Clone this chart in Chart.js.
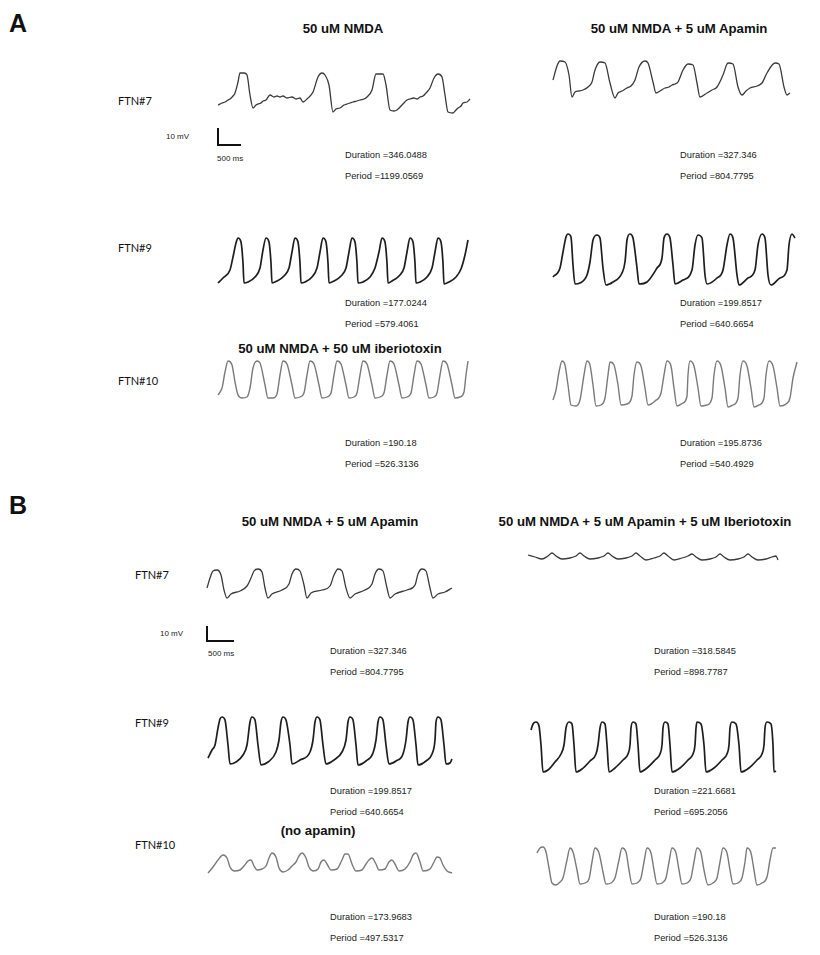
<!DOCTYPE html>
<html>
<head>
<meta charset="utf-8">
<script src="https://cdn.jsdelivr.net/npm/chart.js@4.4.1/dist/chart.umd.min.js"></script>
<style>
  body { margin: 0; background: #fff; }
  #fig { position: relative; width: 820px; height: 955px; background: #fff; overflow: hidden; font-family: "Liberation Sans", Arial, sans-serif; color: #111; }
  .trace { position: absolute; }
  .t { position: absolute; white-space: nowrap; }
  .panel { font-size: 25px; font-weight: bold; transform: translateY(-50%); }
  .title { font-size: 13.2px; font-weight: bold; transform: translate(-50%, -50%); }
  .cell { font-family: Lato, "Open Sans", sans-serif; font-size: 11px; transform: translateY(-50%); }
  .stat { font-size: 9.3px; transform: translateY(-50%); color: #222; }
  .small { font-size: 8px; transform: translateY(-50%); color: #222; }
  .bar { position: absolute; border-left: 2px solid #111; border-bottom: 2px solid #111; }
</style>
</head>
<body>
<div id="fig"></div>
<script>
// Traces: [time (ms), membrane potential (mV above trough)]
const traceA7Nmda = [[60,5.5],[140,6.5],[200,7],[260,8],[300,8.5],[360,10],[400,11.5],[460,17],[500,21.5],[580,21.5],[640,20.5],[700,10.5],[760,4],[820,5.5],[860,6],[920,6.5],[960,7.5],[1020,8],[1100,10.5],[1180,9.5],[1240,10],[1300,9.5],[1360,10],[1440,9],[1540,9.5],[1620,8.5],[1700,9],[1760,7],[1860,9],[1960,12],[2060,19.5],[2140,21.5],[2200,20.5],[2280,15.5],[2360,2],[2420,3.5],[2500,4],[2580,5.5],[2640,6],[2700,6.5],[2760,7],[2840,7.5],[2900,8],[2980,8.5],[3040,9.5],[3140,13],[3220,21],[3360,21],[3420,15.5],[3500,3],[3580,2.5],[3640,3],[3740,5.5],[3840,8],[3900,8.5],[3980,9],[4040,8.5],[4100,9.5],[4160,10],[4220,11.5],[4300,14],[4380,19],[4460,21],[4540,19.5],[4600,10.5],[4660,2],[4760,1.5],[4820,3],[4860,4],[4920,5],[4960,6.5],[5040,7],[5100,8.5]];
const traceA7Apamin = [[60,11],[140,18],[200,20.5],[300,20],[380,13.5],[440,2.5],[500,5],[580,5.5],[660,6],[760,7.5],[840,10],[900,16],[1000,20],[1100,19.5],[1200,9.5],[1300,2],[1360,4.5],[1440,5.5],[1540,7],[1620,8],[1700,11],[1780,17.5],[1900,20.5],[1960,19.5],[2060,10],[2120,4.5],[2200,5.5],[2300,7],[2380,7.5],[2440,8.5],[2500,9],[2560,10],[2660,16],[2760,19],[2860,18.5],[2940,9.5],[3000,2.5],[3140,4.5],[3240,6],[3340,7.5],[3460,13.5],[3560,19.5],[3660,19],[3760,7.5],[3840,3.5],[3920,5.5],[4000,7],[4140,8],[4240,9.5],[4340,14.5],[4500,19.5],[4580,19],[4680,7.5],[4740,3.5],[4800,4.5]];
const traceA9Nmda = [[60,2],[160,4.5],[300,8.5],[360,15],[420,22],[460,24.5],[520,22.5],[560,12],[580,2],[660,2.5],[800,5],[900,9.5],[960,18.5],[1020,24.5],[1080,22.5],[1120,12],[1140,2],[1240,3],[1380,5.5],[1480,9.5],[1540,17.5],[1600,24.5],[1660,22.5],[1700,12],[1720,2],[1800,2.5],[1940,5],[2040,9.5],[2100,17.5],[2160,24.5],[2220,22.5],[2260,12],[2280,2],[2380,3],[2520,5.5],[2620,9.5],[2680,17.5],[2740,24.5],[2800,22.5],[2840,12],[2860,2],[2960,2.5],[3100,5],[3200,9.5],[3280,17.5],[3340,24.5],[3400,22.5],[3440,12],[3460,2],[3540,3],[3680,5.5],[3780,9.5],[3840,17.5],[3900,24.5],[3960,22.5],[4000,12],[4020,2],[4100,2.5],[4240,5],[4340,9.5],[4400,17.5],[4460,24.5],[4520,22.5],[4560,12],[4580,1.5],[4680,2.5],[4820,5],[4920,9],[5000,16],[5060,23.5]];
const traceA9Apamin = [[60,5.5],[200,10],[260,18],[320,25.5],[360,27],[420,25.5],[460,11.5],[500,2],[600,2.5],[740,6.5],[800,13],[860,24],[940,26.5],[1000,25],[1060,10],[1120,1.5],[1260,3],[1440,7.5],[1500,13],[1540,24],[1600,27],[1660,25],[1740,10],[1780,2],[1940,3],[2140,10],[2240,15],[2280,25],[2340,27],[2400,25],[2460,11.5],[2500,2],[2660,4],[2840,9],[2900,21.5],[2960,26.5],[3040,25],[3100,6.5],[3140,2],[3340,5],[3460,9],[3540,21.5],[3600,27],[3660,25],[3740,6.5],[3780,1.5],[3960,5],[4100,9],[4160,21.5],[4240,27],[4300,25],[4360,6.5],[4420,1.5],[4600,5],[4740,9],[4780,21.5],[4840,27],[4900,25]];
const traceA10Ibtx = [[60,4],[140,7.5],[200,15.5],[260,21],[340,19],[400,10.5],[460,4],[540,2.5],[640,3],[700,7.5],[760,17.5],[840,21],[900,20],[1000,9],[1060,2.5],[1160,2.5],[1240,4.5],[1300,14],[1360,21],[1440,19.5],[1540,9],[1600,2.5],[1700,3],[1780,5],[1840,14],[1900,21],[1980,19.5],[2080,9],[2140,2.5],[2240,3],[2320,5],[2380,14],[2440,21],[2520,19.5],[2620,9],[2680,2.5],[2780,3],[2840,5],[2900,14],[2960,21],[3040,19.5],[3140,9],[3200,2.5],[3300,3],[3380,5],[3440,14],[3500,21],[3580,19.5],[3680,9],[3740,2.5],[3840,3],[3920,5],[3980,14],[4040,21],[4120,19.5],[4220,9],[4280,2.5],[4380,3],[4440,5],[4500,14],[4560,21],[4640,19.5],[4740,9],[4800,2.5],[4900,3],[4980,5.5],[5020,14],[5060,21]];
const traceA10Apamin = [[60,5],[120,10],[180,19],[240,24.5],[300,22.5],[360,12.5],[420,2.5],[520,2],[600,5],[680,17.5],[740,24.5],[800,22.5],[860,12.5],[920,2],[1020,2.5],[1100,6],[1160,17.5],[1200,24],[1280,22.5],[1360,12.5],[1420,2.5],[1540,3],[1640,7],[1680,17.5],[1740,24],[1820,22],[1900,11],[1960,2.5],[2100,4.5],[2220,8.5],[2280,17.5],[2340,24.5],[2420,22],[2480,11],[2540,2],[2660,3.5],[2740,7],[2760,17.5],[2800,24.5],[2880,22],[2960,11],[3020,2],[3140,2.5],[3240,6],[3280,17.5],[3340,24.5],[3420,22],[3500,11],[3560,1.5],[3660,2.5],[3760,6],[3800,17.5],[3860,24.5],[3940,22],[4020,11],[4080,1.5],[4180,2.5],[4280,6],[4320,17.5],[4380,24.5],[4460,22],[4540,11],[4600,2],[4720,3],[4800,6],[4860,16],[4940,24]];
const traceB7Apamin = [[60,7],[120,12],[180,15.5],[260,16],[340,13.5],[400,6],[460,2],[540,4],[720,5.5],[860,8],[940,12],[1000,15.5],[1080,16.5],[1160,15],[1220,7],[1280,2],[1360,4],[1560,6],[1700,9],[1760,14],[1840,16.5],[1920,15.5],[2000,8.5],[2060,2],[2140,4.5],[2360,6],[2520,8],[2600,13.5],[2680,16.5],[2760,15.5],[2840,7],[2920,2],[3020,4],[3220,6],[3360,9],[3420,14],[3500,16.5],[3580,15.5],[3660,7],[3720,2],[3820,4],[4060,6],[4220,8.5],[4280,14],[4360,16.5],[4440,15.5],[4520,7],[4580,2],[4680,4],[4820,5],[4960,7]];
const traceB7ApaIbtx = [[60,5.5],[200,4.5],[340,3.5],[460,5],[540,6.5],[620,5],[740,3.5],[900,4],[1020,5],[1100,6.5],[1180,5],[1300,3.5],[1460,4],[1580,5],[1660,6.5],[1740,5],[1860,3.5],[2020,4],[2140,5],[2220,6.5],[2300,5],[2420,3],[2580,4],[2700,5],[2780,6.5],[2860,5],[2980,3],[3140,4],[3260,5],[3340,6],[3420,4.5],[3540,3],[3700,3.5],[3820,4.5],[3900,6],[3980,4.5],[4100,3],[4260,3.5],[4380,4.5],[4460,6],[4540,4.5],[4660,3],[4820,3.5],[4940,4.5],[5020,5],[5060,3]];
const traceB9Apamin = [[60,5],[140,9],[200,11.5],[260,20],[300,24.5],[340,25.5],[400,24],[460,11.5],[500,2],[620,3],[760,6.5],[840,11.5],[900,23],[940,25.5],[1000,24],[1060,11.5],[1120,1.5],[1260,3],[1420,8],[1480,14],[1520,23],[1560,25.5],[1620,24],[1700,11.5],[1740,2],[1900,4],[2100,8],[2160,14],[2200,23],[2240,25.5],[2300,24],[2360,11.5],[2420,2],[2580,4],[2740,8],[2820,14],[2860,23],[2900,25.5],[2960,24],[3020,11.5],[3060,1.5],[3220,3.5],[3360,7.5],[3420,14],[3460,23],[3500,25.5],[3560,24],[3620,11.5],[3680,2],[3820,3.5],[3960,7],[4020,14],[4060,23],[4100,25.5],[4160,24],[4220,11.5],[4260,1.5],[4420,3.5],[4540,7],[4600,14],[4620,23],[4660,25.5],[4720,24],[4780,11.5],[4820,2],[4900,2.5],[4940,4.5]];
const traceB9ApaIbtx = [[80,23],[120,26],[180,27],[240,25],[280,15.5],[320,2],[420,3],[560,7],[680,11],[740,15.5],[780,24],[840,27],[900,26],[940,15.5],[980,2],[1100,3.5],[1260,7.5],[1380,11],[1420,15.5],[1460,24],[1500,27],[1560,26],[1600,15.5],[1640,2],[1760,4],[1920,8],[2020,11],[2060,15.5],[2080,24],[2120,27],[2180,26],[2220,15.5],[2260,2],[2400,4],[2560,8],[2660,11],[2700,15.5],[2720,24],[2760,27],[2820,26],[2860,15.5],[2900,2],[3060,4],[3220,8],[3320,11],[3360,15.5],[3380,24],[3400,27],[3480,26],[3540,15.5],[3580,2],[3740,4],[3900,8],[4000,11],[4040,15.5],[4060,24],[4100,27],[4180,26],[4240,15.5],[4280,2],[4440,4],[4600,8],[4700,11],[4740,15.5],[4760,24],[4800,27],[4880,26],[4920,15.5],[4940,2],[4980,2.5]];
const traceB10Nmda = [[60,1.5],[160,4.5],[260,8],[360,10.5],[440,9],[500,4.5],[580,2.5],[700,3],[780,5],[860,7.5],[920,8],[980,5],[1040,3],[1140,3.5],[1220,5],[1280,9],[1340,11.5],[1420,9.5],[1480,4],[1560,2],[1660,3],[1740,5],[1820,7],[1880,10],[1940,11.5],[2020,9],[2080,4.5],[2160,2.5],[2260,3.5],[2320,7],[2380,8],[2440,6],[2520,3],[2640,3.5],[2740,8],[2800,11],[2860,11],[2940,6],[3020,2.5],[3140,3],[3220,6],[3280,8],[3340,9],[3420,6],[3480,3],[3600,3.5],[3680,7],[3740,8],[3800,6],[3880,2.5],[4000,3.5],[4100,7],[4160,10.5],[4220,11.5],[4300,7],[4360,2.5],[4500,3.5],[4580,7],[4640,9.5],[4700,9],[4760,5.5],[4840,2.5],[4940,1.5]];
const traceB10ApaIbtx = [[60,17.5],[120,20],[180,20.5],[240,18],[300,10],[360,2.5],[440,1.5],[520,3],[580,5],[660,14],[720,20],[780,18],[860,9],[920,2],[1020,2.5],[1100,4.5],[1160,13],[1220,20],[1300,17.5],[1380,8],[1440,2],[1540,2.5],[1620,5],[1700,14],[1760,20],[1840,18],[1900,9],[1960,2],[2060,2.5],[2140,5],[2200,13],[2260,20],[2340,17.5],[2400,9],[2460,2],[2560,2.5],[2640,5],[2700,13],[2760,20],[2840,17.5],[2900,9],[2960,2],[3060,2.5],[3140,5],[3200,13],[3260,20],[3340,17.5],[3400,9],[3480,1.5],[3580,2.5],[3660,5],[3720,13],[3780,20],[3860,17.5],[3920,9],[3980,2],[4080,2.5],[4160,5],[4220,13],[4260,20],[4340,17.5],[4400,9],[4460,1.5],[4560,2.5],[4660,5.5],[4720,14],[4780,20],[4840,20]];

// Durations / periods (ms)
const statsA = [
  ["346.0488", "1199.0569", "327.346", "804.7795"],
  ["177.0244", "579.4061", "199.8517", "640.6654"],
  ["190.18", "526.3136", "195.8736", "540.4929"]
];
const statsB = [
  ["327.346", "804.7795", "318.5845", "898.7787"],
  ["199.8517", "640.6654", "221.6681", "695.2056"],
  ["173.9683", "497.5317", "190.18", "526.3136"]
];
const cellLabels = ["FTN#7", "FTN#9", "FTN#10"];

const MS_PER_PX = 20, MV_PER_PX = 0.5;
const fig = document.getElementById("fig");

function addText(cls, txt, x, y) {
  const d = document.createElement("div");
  d.className = "t " + cls;
  d.textContent = txt;
  d.style.left = x + "px";
  d.style.top = y + "px";
  fig.appendChild(d);
}

function addTrace(data, box, color, width) {
  const wrap = document.createElement("div");
  wrap.className = "trace";
  wrap.style.left = box[0] + "px";
  wrap.style.top = box[1] + "px";
  wrap.style.width = box[2] + "px";
  wrap.style.height = box[3] + "px";
  const cv = document.createElement("canvas");
  wrap.appendChild(cv);
  fig.appendChild(wrap);
  new Chart(cv, {
    type: "line",
    data: {
      datasets: [{
        data: data.map(p => ({ x: p[0], y: p[1] })),
        borderColor: color,
        borderWidth: width,
        pointRadius: 0,
        tension: 0.35,
        cubicInterpolationMode: "monotone",
        clip: false
      }]
    },
    options: {
      responsive: true,
      maintainAspectRatio: false,
      animation: false,
      events: [],
      layout: { padding: 0 },
      plugins: { legend: { display: false }, tooltip: { enabled: false } },
      scales: {
        x: { type: "linear", display: false, min: 0, max: box[2] * MS_PER_PX },
        y: { type: "linear", display: false, min: 0, max: box[3] * MV_PER_PX }
      }
    }
  });
}

// Panel A
addText("panel", "A", 9, 23);
addText("title", "50 uM NMDA", 343, 28);
addText("title", "50 uM NMDA + 5 uM Apamin", 679, 28);
addText("title", "50 uM NMDA + 50 uM iberiotoxin", 340, 348);
[100, 247, 380].forEach((y, i) => addText("cell", cellLabels[i], 118, y));
addText("small", "10 mV", 166, 136);
addText("small", "500 ms", 217, 158);
const barA = document.createElement("div");
barA.className = "bar";
Object.assign(barA.style, { left: "217px", top: "128px", width: "22px", height: "16px" });
fig.appendChild(barA);
[[155, 176], [303, 324], [443, 464]].forEach((ys, i) => {
  addText("stat", "Duration =" + statsA[i][0], 345, ys[0]);
  addText("stat", "Period =" + statsA[i][1], 345, ys[1]);
  addText("stat", "Duration =" + statsA[i][2], 680, ys[0]);
  addText("stat", "Period =" + statsA[i][3], 680, ys[1]);
});
addTrace(traceA7Nmda, [215, 70, 258, 46], "#3a3a3a", 1.3);
addTrace(traceA7Apamin, [550, 56, 245, 46], "#3a3a3a", 1.3);
addTrace(traceA9Nmda, [215, 234, 258, 53], "#1e1e1e", 1.7);
addTrace(traceA9Apamin, [550, 230, 250, 58], "#1e1e1e", 1.7);
addTrace(traceA10Ibtx, [215, 356, 258, 47], "#7a7a7a", 1.4);
addTrace(traceA10Apamin, [550, 357, 250, 53], "#7a7a7a", 1.4);

// Panel B
addText("panel", "B", 9, 505);
addText("title", "50 uM NMDA + 5 uM Apamin", 330, 521);
addText("title", "50 uM NMDA + 5 uM Apamin + 5 uM Iberiotoxin", 645, 521);
addText("title", "(no apamin)", 318, 830);
[574, 722, 844].forEach((y, i) => addText("cell", cellLabels[i], 135, y));
addText("small", "10 mV", 160, 633);
addText("small", "500 ms", 208, 653);
const barB = document.createElement("div");
barB.className = "bar";
Object.assign(barB.style, { left: "206px", top: "626px", width: "26px", height: "14px" });
fig.appendChild(barB);
[[651, 672], [791, 812], [917, 938]].forEach((ys, i) => {
  addText("stat", "Duration =" + statsB[i][0], 330, ys[0]);
  addText("stat", "Period =" + statsB[i][1], 330, ys[1]);
  addText("stat", "Duration =" + statsB[i][2], 654, ys[0]);
  addText("stat", "Period =" + statsB[i][3], 654, ys[1]);
});
addTrace(traceB7Apamin, [204, 562, 252, 40], "#3a3a3a", 1.3);
addTrace(traceB7ApaIbtx, [525, 548, 258, 18], "#3a3a3a", 1.3);
addTrace(traceB9Apamin, [205, 713, 250, 55], "#1e1e1e", 1.7);
addTrace(traceB9ApaIbtx, [527, 718, 253, 58], "#1e1e1e", 1.7);
addTrace(traceB10Nmda, [205, 850, 250, 26], "#7a7a7a", 1.4);
addTrace(traceB10ApaIbtx, [534, 843, 246, 45], "#7a7a7a", 1.4);
</script>
</body>
</html>
